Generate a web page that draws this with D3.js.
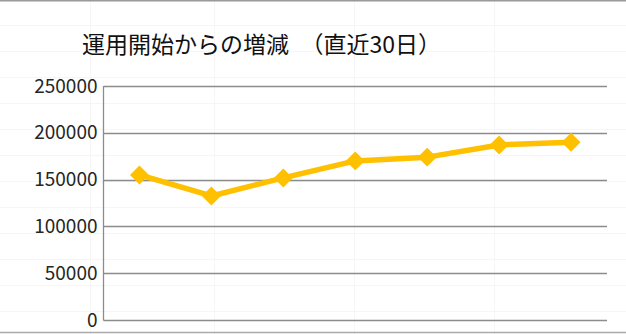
<!DOCTYPE html>
<html>
<head>
<meta charset="utf-8">
<script src="https://cdn.jsdelivr.net/npm/d3@7"></script>
<style>
  body { margin: 0; background: #fff; }
  svg { display: block; font-family: "Noto Sans CJK JP", "Noto Sans", sans-serif; }
</style>
</head>
<body>
<svg id="chart" width="626" height="334"></svg>
<script>
'use strict';

// Data
var categories = ['1', '2', '3', '4', '5', '6', '7'];
var values = [155000, 132500, 151800, 170000, 174000, 187000, 190000];
var yTicks = [0, 50000, 100000, 150000, 200000, 250000];
var title = '運用開始からの増減　（直近30日）';

(function () {
    var svg = d3.select('#chart');
    var W = 626, H = 334;

    // Faint spreadsheet cells behind the chart
    var sheetCols = [90, 214, 354, 494];
    var sheetRows = d3.range(25, H, 26);
    var sheet = svg.append('g');
    sheet.selectAll('line.c').data(sheetCols).enter().append('line')
        .attr('x1', function(d) { return d + 0.5; })
        .attr('x2', function(d) { return d + 0.5; })
        .attr('y1', 0).attr('y2', H)
        .style('stroke', '#f6f6f6');
    sheet.selectAll('line.r').data(sheetRows).enter().append('line')
        .attr('x1', 0).attr('x2', W)
        .attr('y1', function(d) { return d + 0.5; })
        .attr('y2', function(d) { return d + 0.5; })
        .style('stroke', '#f6f6f6');
    // top and bottom borders
    svg.append('line').attr('x1', 0).attr('x2', W).attr('y1', 0.75).attr('y2', 0.75)
        .style('stroke', '#999').style('stroke-width', 1.5);
    svg.append('line').attr('x1', 0).attr('x2', W).attr('y1', 332.5).attr('y2', 332.5)
        .style('stroke', '#aaa').style('stroke-width', 1.5);

    // Plot area
    var pLeft = 103.5, pRight = 607, pTop = 86, pBottom = 320;

    var x = d3.scaleBand().domain(categories).range([pLeft, pRight]);
    var y = d3.scaleLinear().domain([0, 250000]).range([pBottom, pTop]);

    // Gridlines
    svg.append('g').selectAll('line').data(yTicks).enter().append('line')
        .attr('x1', pLeft).attr('x2', pRight)
        .attr('y1', function(d) { return Math.round(y(d)) + 0.5; })
        .attr('y2', function(d) { return Math.round(y(d)) + 0.5; })
        .style('stroke', '#8c8c8c')
        .style('stroke-width', 1.3);

    // Y axis
    var yAxis = d3.axisLeft(y).tickValues(yTicks).tickSize(0).tickPadding(6)
        .tickFormat(d3.format('d'));
    var yAxisEl = svg.append('g')
        .attr('transform', 'translate(' + pLeft + ',0)')
        .call(yAxis);
    yAxisEl.select('.domain')
        .attr('d', 'M0,' + pTop + 'V' + (pBottom + 0.5))
        .style('stroke', '#8c8c8c').style('stroke-width', 1.3);
    yAxisEl.selectAll('text')
        .style('font-size', '19px')
        .style('font-family', '"Noto Sans CJK JP", sans-serif')
        .style('fill', '#262626');

    // Line
    var line = d3.line()
        .x(function(d, i) { return x(categories[i]) + x.bandwidth() / 2; })
        .y(function(d) { return y(d); });
    svg.append('path')
        .datum(values)
        .attr('d', line)
        .style('fill', 'none')
        .style('stroke', '#FFC000')
        .style('stroke-width', 5.5)
        .style('stroke-linejoin', 'round');

    // Diamond markers
    var diamond = d3.symbol().type(d3.symbolSquare).size(180);
    svg.append('g').selectAll('path').data(values).enter().append('path')
        .attr('d', diamond)
        .attr('transform', function(d, i) {
            return 'translate(' + (x(categories[i]) + x.bandwidth() / 2) + ',' + y(d) + ') rotate(45)';
        })
        .style('fill', '#FFC000');

    // Title
    svg.append('text')
        .attr('x', 82)
        .attr('y', 53)
        .style('font-size', '23px')
        .style('fill', '#111')
        .text(title);
})();
</script>
</body>
</html>
